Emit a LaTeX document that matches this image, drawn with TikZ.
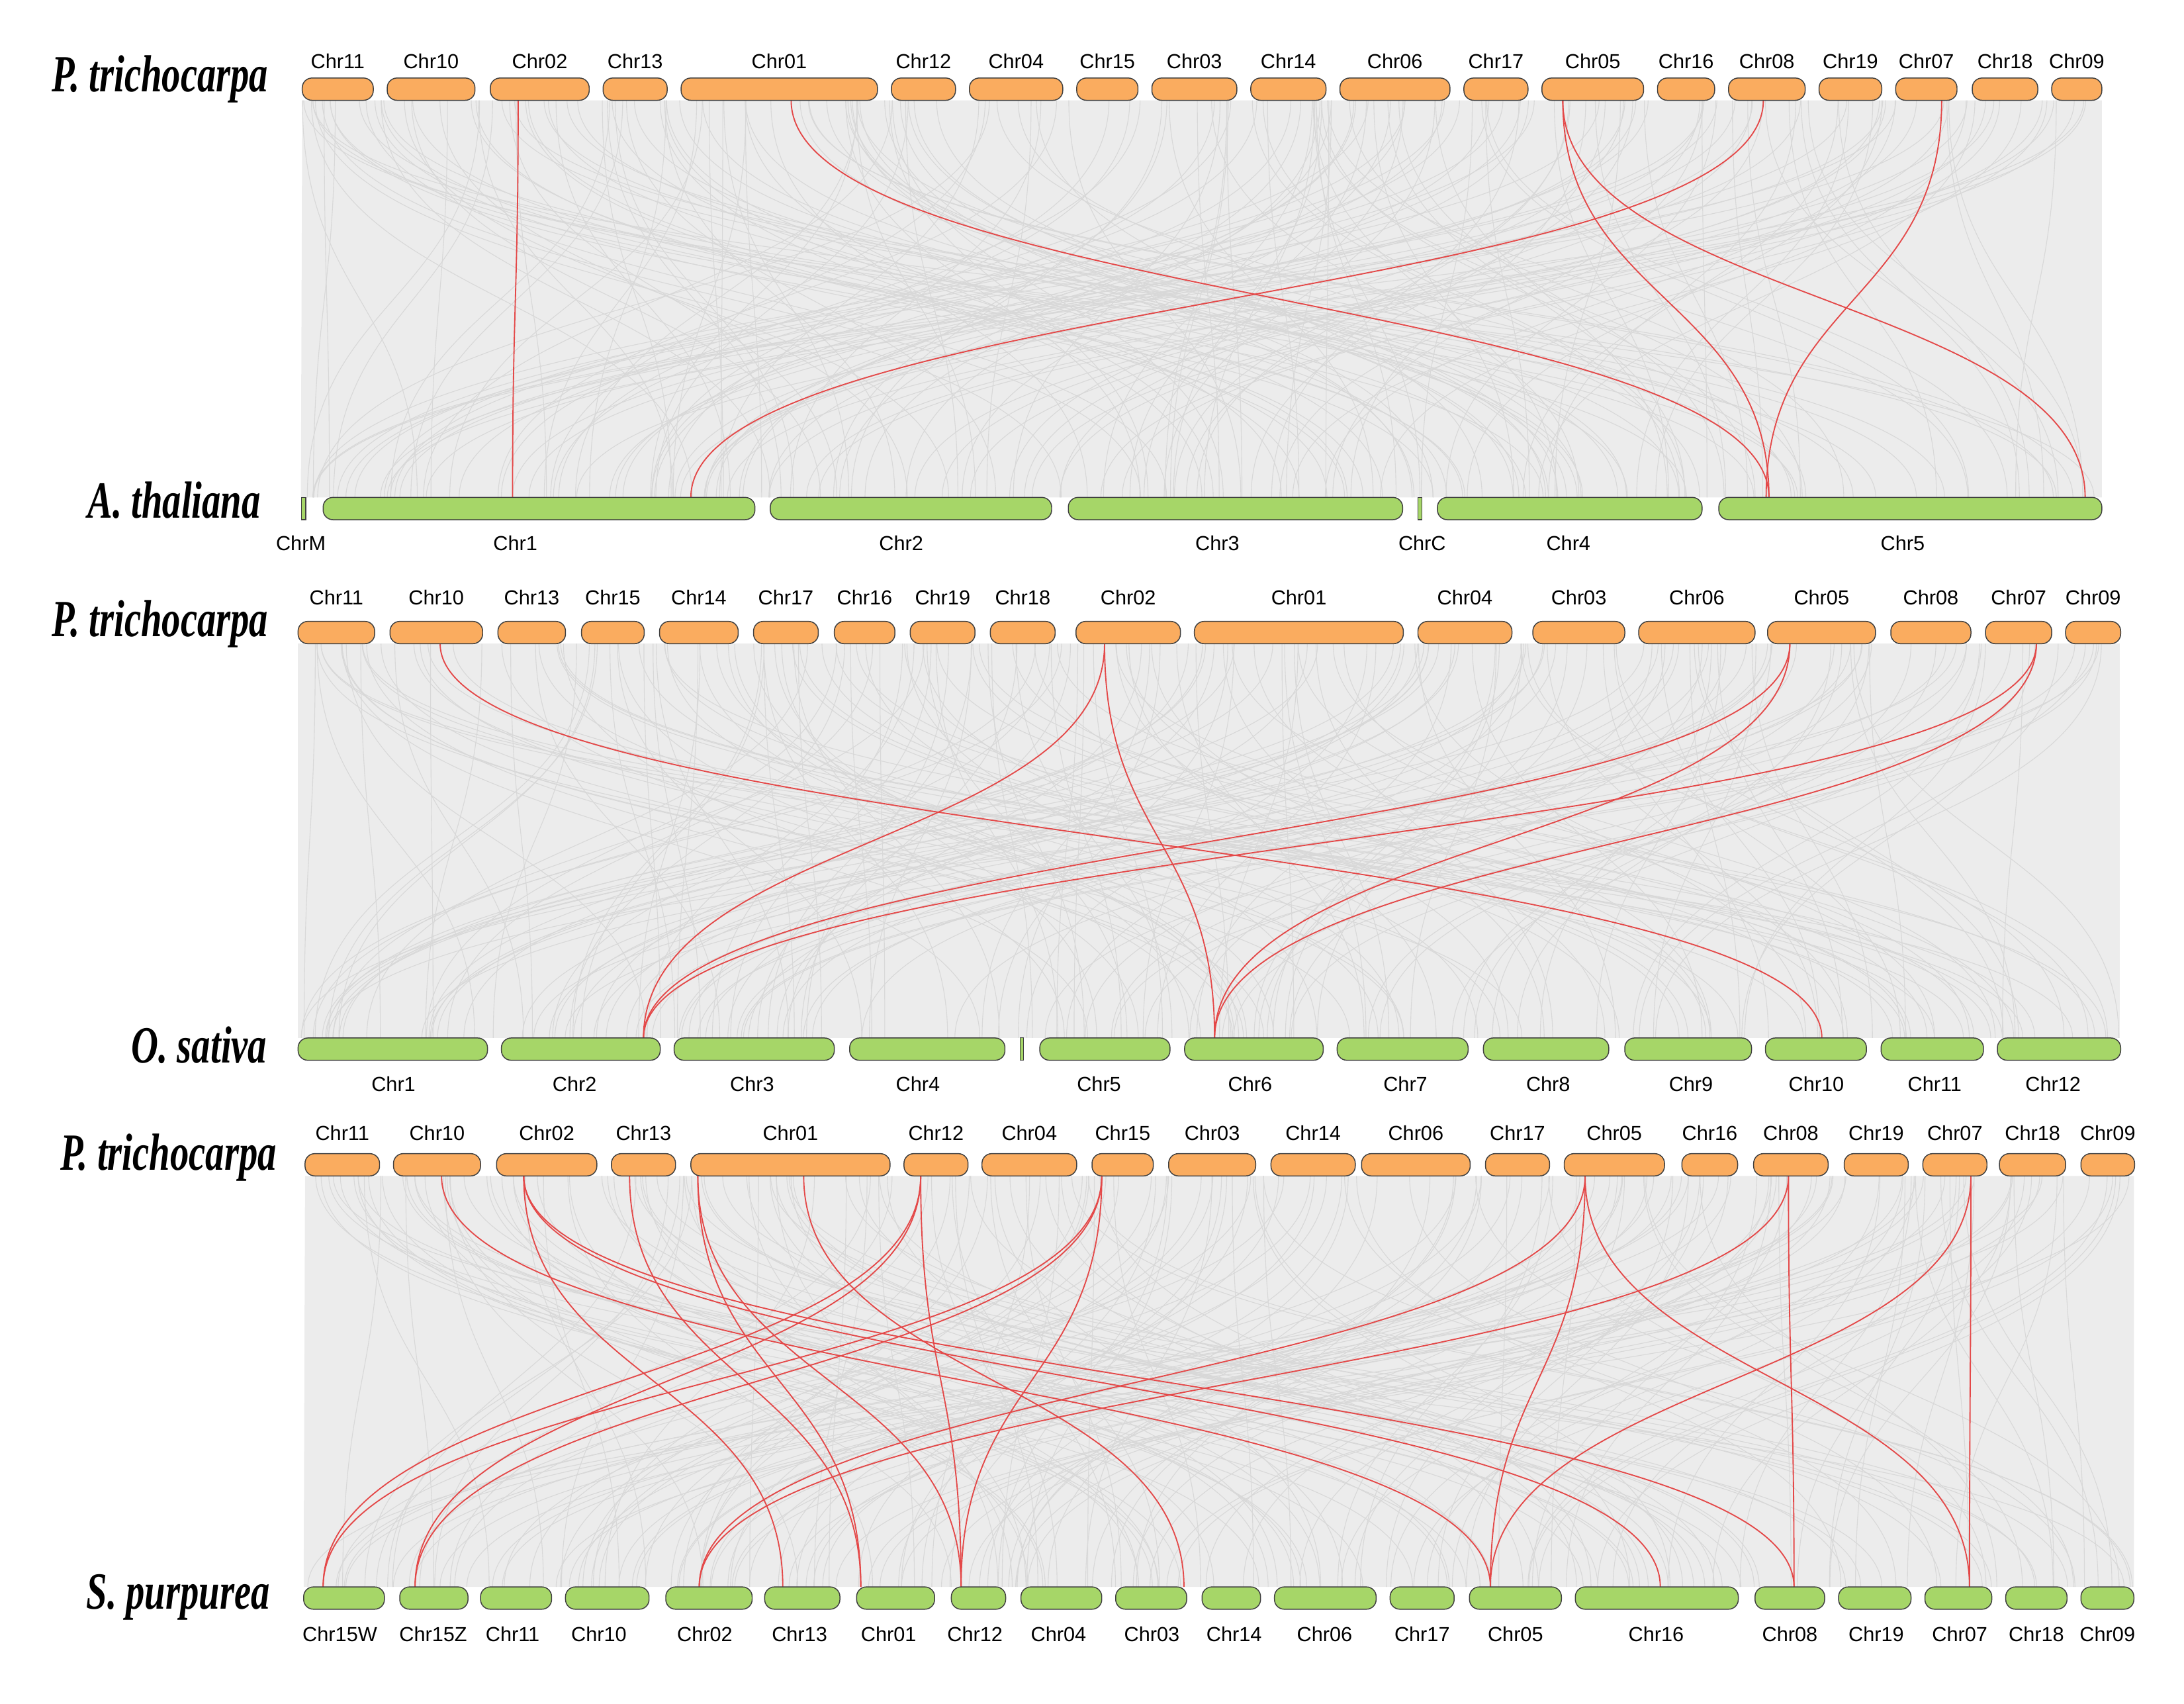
\documentclass[tikz,border=0pt]{standalone}
\usepackage{fontspec}
\setmainfont{Liberation Sans}
\newfontfamily\spfont{Liberation Serif}
\definecolor{barorange}{RGB}{250,172,95}
\definecolor{bargreen}{RGB}{166,214,104}
\definecolor{linkred}{RGB}{228,72,72}
\definecolor{bandgray}{RGB}{236,236,236}
\definecolor{linkgray}{RGB}{216,216,216}
\begin{document}
\begin{tikzpicture}[x=0.02cm,y=-0.02cm,
  obar/.style={draw=black!75, line width=0.4pt, fill=barorange, rounded corners=0.14cm, inner sep=0pt, outer sep=0pt, minimum height=0.32cm},
  gbar/.style={draw=black!75, line width=0.4pt, fill=bargreen, rounded corners=0.14cm, inner sep=0pt, outer sep=0pt, minimum height=0.32cm},
  tinybar/.style={draw=black!75, line width=0.3pt, fill=bargreen, inner sep=0pt, outer sep=0pt, minimum height=0.32cm, minimum width=0.06cm},
  chrlab/.style={font=\fontsize{8.3}{9}\selectfont, inner sep=0pt},
  splab/.style={font=\spfont\fontsize{15.8}{18}\selectfont\bfseries\itshape, inner sep=0pt, anchor=base},
  rlink/.style={draw=linkred, line width=0.5pt},
  glink/.style={draw=linkgray, line width=0.3pt},
  band/.style={fill=bandgray, draw=none}]
\useasboundingbox (0,0) rectangle (1568,1223);

% ---------- gray bands ----------
\fill[band] (217,72) -- (1509,72) -- (1509,357) -- (216,357) -- cycle;
\fill[band] (214,462) -- (1522,462) -- (1522,745) -- (214,745) -- cycle;
\fill[band] (219,844) -- (1532,844) -- (1532,1139) -- (218,1139) -- cycle;

\pgfmathsetseed{11}
\foreach \i in {1,...,220} {
  \pgfmathsetmacro\xa{217+rnd*1292}
  \pgfmathsetmacro\xb{217+rnd*1292}
  \draw[glink] (\xa,72) .. controls (\xa,215) and (\xb,215) .. (\xb,357);
}
\foreach \i in {1,...,220} {
  \pgfmathsetmacro\xa{214+rnd*1308}
  \pgfmathsetmacro\xb{214+rnd*1308}
  \draw[glink] (\xa,462) .. controls (\xa,603) and (\xb,603) .. (\xb,745);
}
\foreach \i in {1,...,220} {
  \pgfmathsetmacro\xa{219+rnd*1313}
  \pgfmathsetmacro\xb{219+rnd*1313}
  \draw[glink] (\xa,844) .. controls (\xa,991) and (\xb,991) .. (\xb,1139);
}

% ---------- red links ----------
\newcommand\rla[2]{\draw[rlink] (#1,72) .. controls (#1,215) and (#2,215) .. (#2,357);}
\newcommand\rlb[2]{\draw[rlink] (#1,462) .. controls (#1,603) and (#2,603) .. (#2,745);}
\newcommand\rlc[2]{\draw[rlink] (#1,844) .. controls (#1,991) and (#2,991) .. (#2,1139);}
% panel 1
\rla{372}{368}
\rla{568}{1270}
\rla{1266}{496}
\rla{1122}{1270}
\rla{1122}{1497}
\rla{1394}{1268}
% panel 2
\rlb{316}{1308}
\rlb{793}{462}
\rlb{793}{872}
\rlb{1285}{462}
\rlb{1285}{872}
\rlb{1462}{462}
\rlb{1462}{872}
% panel 3
\rlc{661}{232}
\rlc{661}{298}
\rlc{661}{690}
\rlc{791}{232}
\rlc{791}{298}
\rlc{791}{690}
\rlc{317}{1070}
\rlc{376}{562}
\rlc{376}{1192}
\rlc{376}{1288}
\rlc{452}{618}
\rlc{501}{618}
\rlc{501}{690}
\rlc{577}{850}
\rlc{1138}{502}
\rlc{1138}{1070}
\rlc{1138}{1414}
\rlc{1284}{1288}
\rlc{1284}{502}
\rlc{1415}{1414}
\rlc{1415}{1070}

% ---------- panel 1 bars ----------
\foreach \n/\a/\b in {Chr11/217/268, Chr10/278/341, Chr02/352/423, Chr13/433/479, Chr01/489/630, Chr12/640/686, Chr04/696/763, Chr15/773/817, Chr03/827/888, Chr14/898/952, Chr06/962/1041, Chr17/1051/1097, Chr05/1107/1180, Chr16/1190/1231, Chr08/1241/1296, Chr19/1306/1351, Chr07/1361/1405, Chr18/1416/1463, Chr09/1473/1509} {
  \pgfmathsetmacro\bw{(\b-\a)*0.02}
  \pgfmathsetmacro\bx{(\a+\b)/2}
  \node[obar, minimum width=\bw cm] (pa-\n) at (\bx,64) {};
  \node[chrlab] (pa-\n-l) at (\bx,44) {\n};
}
\foreach \n/\a/\b/\lx in {Chr1/232/542/370, Chr2/553/755/647, Chr3/767/1007/874, Chr4/1032/1222/1126, Chr5/1234/1509/1366} {
  \pgfmathsetmacro\bw{(\b-\a)*0.02}
  \pgfmathsetmacro\bx{(\a+\b)/2}
  \node[gbar, minimum width=\bw cm] (at-\n) at (\bx,365) {};
  \node[chrlab] (at-\n-l) at (\lx,390) {\n};
}
\node[tinybar] (at-ChrM) at (218,365) {};
\node[chrlab] (at-ChrM-l) at (216,390) {ChrM};
\node[tinybar] (at-ChrC) at (1019.5,365) {};
\node[chrlab] (at-ChrC-l) at (1021,390) {ChrC};

% ---------- panel 2 bars ----------
\foreach \n/\a/\b in {Chr11/214/269, Chr10/280/346.5, Chr13/357.5/406, Chr15/417.5/462.5, Chr14/473.5/530, Chr17/541/587.5, Chr16/599/642.5, Chr19/653.5/700, Chr18/711/757.5, Chr02/772.5/847.5, Chr01/857.5/1007.5, Chr04/1018/1085.5, Chr03/1100.5/1166.5, Chr06/1176.5/1260, Chr05/1269/1346.5, Chr08/1357.5/1415, Chr07/1425.5/1473, Chr09/1483/1522.5} {
  \pgfmathsetmacro\bw{(\b-\a)*0.02}
  \pgfmathsetmacro\bx{(\a+\b)/2}
  \node[obar, minimum width=\bw cm] (pb-\n) at (\bx,454) {};
  \node[chrlab] (pb-\n-l) at (\bx,429) {\n};
}
\foreach \n/\a/\b/\lx in {Chr1/214/350/282.5, Chr2/360/474/412.5, Chr3/484/599/540, Chr4/610/721.5/659, Chr5/746.5/840/789, Chr6/850.5/950/897.5, Chr7/960/1054/1009, Chr8/1065/1155/1111.5, Chr9/1166.5/1257.5/1214, Chr10/1267.5/1340/1304, Chr11/1350.5/1424/1389, Chr12/1434/1522.5/1474} {
  \pgfmathsetmacro\bw{(\b-\a)*0.02}
  \pgfmathsetmacro\bx{(\a+\b)/2}
  \node[gbar, minimum width=\bw cm] (os-\n) at (\bx,753) {};
  \node[chrlab] (os-\n-l) at (\lx,778) {\n};
}
\node[tinybar, minimum width=0.05cm] (os-Un) at (733.7,753) {};

% ---------- panel 3 bars ----------
\foreach \n/\a/\b in {Chr11/219/272.5, Chr10/282.5/345, Chr02/356.5/428.5, Chr13/439/485, Chr01/496/639, Chr12/649/695, Chr04/705/773, Chr15/784/828, Chr03/839/901.5, Chr14/912.5/973, Chr06/977.5/1055.5, Chr17/1066.5/1112.5, Chr05/1123/1195, Chr16/1207.5/1247.5, Chr08/1259/1312.5, Chr19/1324/1370, Chr07/1380.5/1426.5, Chr18/1435.5/1483, Chr09/1494/1532.5} {
  \pgfmathsetmacro\bw{(\b-\a)*0.02}
  \pgfmathsetmacro\bx{(\a+\b)/2}
  \node[obar, minimum width=\bw cm] (pc-\n) at (\bx,836) {};
  \node[chrlab] (pc-\n-l) at (\bx,813) {\n};
}
\foreach \n/\a/\b/\lx in {Chr15W/218/276/244, Chr15Z/287/336/311, Chr11/345/396/368, Chr10/406/466/430, Chr02/478/540/506, Chr13/549/603/574, Chr01/615/671/638, Chr12/683/722/700, Chr04/733/791/760, Chr03/801/852/827, Chr14/863/905/886, Chr06/915/988/951, Chr17/998/1044/1021, Chr05/1055/1121/1088, Chr16/1131/1248/1189, Chr08/1260/1310/1285, Chr19/1320/1372/1347, Chr07/1382/1430/1407, Chr18/1440/1484/1462, Chr09/1494/1532/1513} {
  \pgfmathsetmacro\bw{(\b-\a)*0.02}
  \pgfmathsetmacro\bx{(\a+\b)/2}
  \node[gbar, minimum width=\bw cm] (sp-\n) at (\bx,1147) {};
  \node[chrlab] (sp-\n-l) at (\lx,1173) {\n};
}

% ---------- species labels ----------
\node[splab] (sp1) at (115,66) {\scalebox{0.97}[1.35]{P. trichocarpa}};
\node[splab] (sp2) at (125,372) {\scalebox{0.97}[1.35]{A. thaliana}};
\node[splab] (sp3) at (115,457) {\scalebox{0.97}[1.35]{P. trichocarpa}};
\node[splab] (sp4) at (143,763) {\scalebox{0.97}[1.35]{O. sativa}};
\node[splab] (sp5) at (121,840) {\scalebox{0.97}[1.35]{P. trichocarpa}};
\node[splab] (sp6) at (128,1155) {\scalebox{0.97}[1.35]{S. purpurea}};
\end{tikzpicture}
\end{document}
